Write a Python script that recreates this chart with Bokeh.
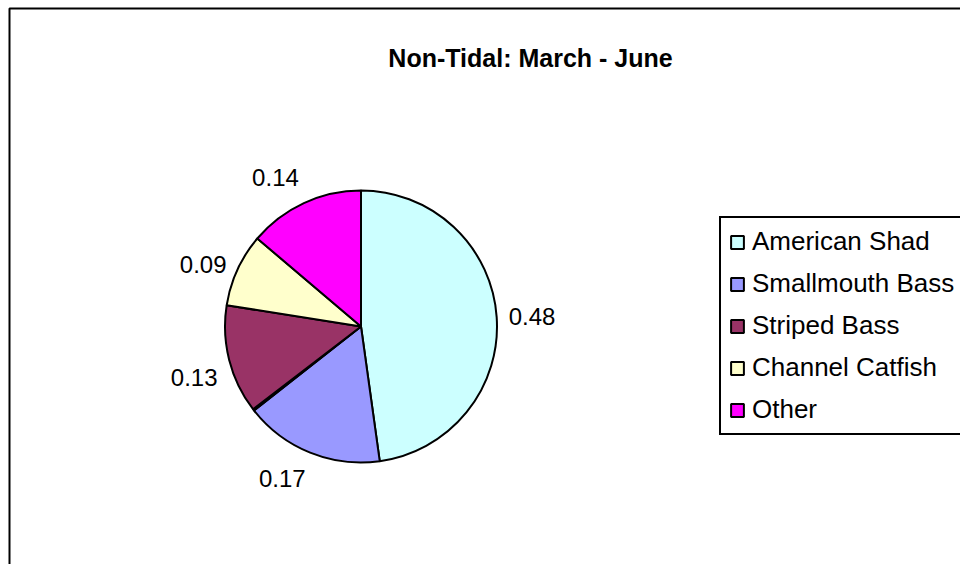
import math
from bokeh.plotting import figure
from bokeh.models import (ColumnDataSource, Range1d, Legend, LegendItem, Label, BoxAnnotation)
from bokeh.core.properties import value
from bokeh.embed import file_html
from bokeh.resources import INLINE

# ---- data ----
species = ["American Shad", "Smallmouth Bass", "(unlabelled)", "Striped Bass", "Channel Catfish", "Other"]
shares = [0.478, 0.166, 0.002, 0.129, 0.087, 0.138]
colors = ["#CCFFFF", "#9999FF", "#C0C0C0", "#993366", "#FFFFCC", "#FF00FF"]
in_legend = [True, True, False, True, True, True]
title_text = "Non-Tidal: March - June"

# ---- layout ----
W, H = 960, 564
CX, CY = 360.5, 238.0      # pie centre (data units == pixels)
R = 136.0
LR = R + 12.0
VOFF = 6.0
FONT = "Liberation Sans"

total = sum(shares)
starts, ends, lx, ly, ltxt, lal, lbl = [], [], [], [], [], [], []
c = 0.0
for v in shares:
    f0 = c / total
    f1 = (c + v) / total
    c += v
    # clockwise from 12 o'clock
    starts.append(math.pi / 2 - 2 * math.pi * f1)
    ends.append(math.pi / 2 - 2 * math.pi * f0)
    fm = (f0 + f1) / 2
    s = math.sin(2 * math.pi * fm)
    co = math.cos(2 * math.pi * fm)
    al = "left" if s > 0.3 else ("right" if s < -0.3 else "center")
    bl = "bottom" if co > 0.5 else ("top" if co < -0.2 else "middle")
    dy = VOFF if bl == "bottom" else (-VOFF if bl == "top" else 0.0)
    lx.append(CX + LR * s)
    ly.append(CY + LR * co + dy)
    ltxt.append(f"{v:.2f}" if v >= 0.005 else "")
    lal.append(al)
    lbl.append(bl)

src = ColumnDataSource(dict(species=species, share=shares, color=colors,
                            start=starts, end=ends))
lsrc = ColumnDataSource(dict(x=lx, y=ly, text=ltxt, align=lal, baseline=lbl))

p = figure(width=W, height=H, output_backend="svg", toolbar_location=None,
           x_range=Range1d(0, W), y_range=Range1d(0, H),
           min_border=0, min_border_left=0, min_border_right=0,
           min_border_top=0, min_border_bottom=0)
p.axis.visible = False
p.xgrid.visible = False
p.ygrid.visible = False
p.outline_line_color = None
p.background_fill_color = "white"
p.border_fill_color = "white"

# chart-area border (extends beyond the window on the right and bottom)
p.add_layout(BoxAnnotation(left=9, right=W + 20, bottom=-20, top=H - 8,
                           fill_alpha=0, line_color="black", line_width=2, line_alpha=1.0))

r = p.wedge(x=CX, y=CY, radius=R, start_angle="start", end_angle="end",
            fill_color="color", line_color="black", line_width=2, source=src)

p.text(x="x", y="y", text="text", text_align="align", text_baseline="baseline",
       text_font=value(FONT), text_font_size="24px", text_color="black", source=lsrc)

items = [LegendItem(label=species[i], renderers=[r], index=i)
         for i in range(len(species)) if in_legend[i]]
legend = Legend(items=items, location=(719, 129), orientation="vertical",
                label_text_font=FONT, label_text_font_size="26px",
                label_text_color="black", label_standoff=7,
                glyph_width=16, glyph_height=16, label_height=28,
                spacing=11, padding=8, margin=0,
                border_line_color="black", border_line_width=2, border_line_alpha=1.0,
                background_fill_color="white", background_fill_alpha=1.0)
p.add_layout(legend, "center")

p.add_layout(Label(x=530, y=507, x_units="screen", y_units="screen", text=title_text,
                   text_align="center", text_baseline="middle", text_font=FONT,
                   text_font_size="25px", text_font_style="bold", text_color="black"))

open("out.html", "w").write(file_html(p, INLINE))
